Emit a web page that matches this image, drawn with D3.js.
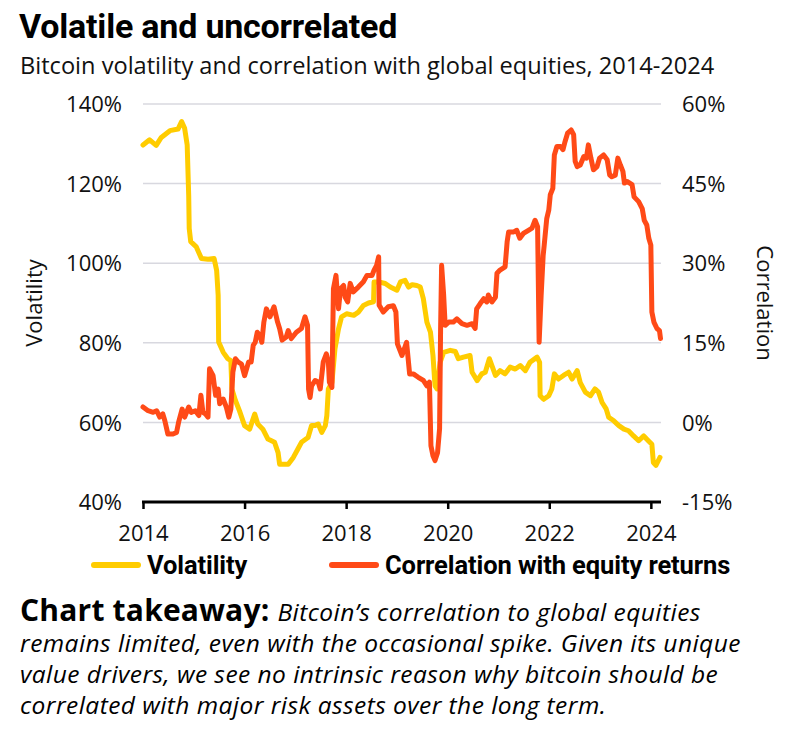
<!DOCTYPE html>
<html>
<head>
<meta charset="utf-8">
<script src="https://cdn.jsdelivr.net/npm/d3@7/dist/d3.min.js"></script>
<style>
  body { margin: 0; background: #fff; }
  svg { display: block; }
  .tick-label { font-family: "Open Sans", sans-serif; font-size: 22px; fill: #111; }
</style>
</head>
<body>
<div id="chart"></div>
<script>
// Bitcoin 30-day volatility (%)
const volYears = [2014.00, 2014.13, 2014.26, 2014.36, 2014.53, 2014.69, 2014.76, 2014.82, 2014.87, 2014.90,
  2014.91, 2014.94, 2015.05, 2015.15, 2015.28, 2015.40, 2015.45, 2015.48, 2015.49, 2015.58,
  2015.67, 2015.73, 2015.75, 2015.82, 2015.90, 2016.00, 2016.10, 2016.20, 2016.26, 2016.36,
  2016.46, 2016.59, 2016.66, 2016.69, 2016.86, 2016.96, 2017.05, 2017.12, 2017.25, 2017.32,
  2017.39, 2017.45, 2017.52, 2017.59, 2017.62, 2017.65, 2017.72, 2017.78, 2017.85, 2017.91,
  2018.01, 2018.15, 2018.24, 2018.34, 2018.44, 2018.54, 2018.55, 2018.64, 2018.77, 2018.87,
  2019.00, 2019.07, 2019.16, 2019.23, 2019.30, 2019.39, 2019.46, 2019.52, 2019.59, 2019.66,
  2019.71, 2019.75, 2019.79, 2019.85, 2019.92, 2020.05, 2020.15, 2020.21, 2020.31, 2020.44,
  2020.48, 2020.58, 2020.67, 2020.74, 2020.82, 2020.94, 2021.03, 2021.13, 2021.23, 2021.33,
  2021.43, 2021.53, 2021.62, 2021.76, 2021.81, 2021.82, 2021.89, 2021.99, 2022.05, 2022.10,
  2022.18, 2022.28, 2022.38, 2022.45, 2022.55, 2022.61, 2022.71, 2022.81, 2022.90, 2022.97,
  2023.04, 2023.12, 2023.17, 2023.27, 2023.37, 2023.47, 2023.56, 2023.66, 2023.76, 2023.86,
  2023.95, 2024.02, 2024.05, 2024.10, 2024.18];
const volValues = [129.7, 131.0, 129.6, 131.6, 133.3, 133.7, 135.6, 133.9, 129.7, 117.0,
  108.7, 105.4, 104.1, 101.2, 101.0, 101.2, 98.2, 92.0, 80.2, 77.6,
  76.0, 75.5, 68.4, 65.5, 62.9, 59.2, 58.3, 62.1, 59.6, 58.3,
  55.8, 55.0, 52.4, 49.5, 49.5, 51.2, 53.3, 55.0, 56.2, 59.2,
  59.2, 59.6, 57.5, 59.2, 61.7, 68.4, 70.0, 78.5, 83.5, 86.5,
  87.3, 86.9, 87.7, 89.4, 90.0, 90.3, 95.3, 95.3, 94.9, 94.0,
  93.2, 95.3, 95.7, 94.0, 94.6, 94.4, 94.0, 91.1, 85.2, 82.7,
  76.8, 69.2, 68.4, 75.1, 77.6, 78.1, 77.8, 76.0, 76.4, 76.8,
  72.6, 70.5, 72.2, 72.6, 76.0, 71.8, 73.0, 72.2, 73.9, 73.4,
  74.3, 73.0, 75.1, 76.4, 75.1, 66.7, 65.8, 66.7, 68.4, 72.2,
  70.9, 71.8, 72.6, 70.9, 73.0, 70.0, 67.6, 66.7, 68.4, 67.6,
  65.0, 63.4, 61.3, 60.4, 59.2, 58.3, 57.9, 56.6, 55.4, 56.6,
  55.4, 54.5, 49.9, 49.2, 51.2];

// Correlation of bitcoin with global equity returns (%)
const corrYears = [2014.00, 2014.10, 2014.20, 2014.27, 2014.33, 2014.39, 2014.43, 2014.49, 2014.59, 2014.66,
  2014.70, 2014.77, 2014.82, 2014.90, 2014.95, 2015.03, 2015.10, 2015.14, 2015.18, 2015.23,
  2015.28, 2015.31, 2015.38, 2015.43, 2015.48, 2015.51, 2015.58, 2015.64, 2015.69, 2015.73,
  2015.77, 2015.82, 2015.87, 2015.94, 2016.00, 2016.08, 2016.13, 2016.17, 2016.21, 2016.25,
  2016.30, 2016.34, 2016.38, 2016.43, 2016.50, 2016.58, 2016.65, 2016.69, 2016.74, 2016.82,
  2016.86, 2016.92, 2017.02, 2017.12, 2017.19, 2017.24, 2017.26, 2017.29, 2017.32, 2017.39,
  2017.45, 2017.49, 2017.55, 2017.61, 2017.65, 2017.67, 2017.72, 2017.75, 2017.80, 2017.85,
  2017.89, 2017.95, 2017.98, 2018.03, 2018.08, 2018.14, 2018.24, 2018.34, 2018.41, 2018.51,
  2018.55, 2018.60, 2018.64, 2018.65, 2018.73, 2018.83, 2018.93, 2018.98, 2019.01, 2019.10,
  2019.19, 2019.25, 2019.33, 2019.42, 2019.52, 2019.59, 2019.64, 2019.67, 2019.71, 2019.75,
  2019.80, 2019.84, 2019.86, 2019.88, 2019.92, 2019.95, 2020.02, 2020.11, 2020.18, 2020.28,
  2020.38, 2020.48, 2020.54, 2020.57, 2020.64, 2020.71, 2020.77, 2020.80, 2020.87, 2020.94,
  2020.97, 2021.03, 2021.13, 2021.17, 2021.20, 2021.30, 2021.36, 2021.42, 2021.49, 2021.59,
  2021.66, 2021.72, 2021.77, 2021.80, 2021.84, 2021.88, 2021.90, 2021.95, 2021.99, 2022.02,
  2022.07, 2022.10, 2022.15, 2022.22, 2022.27, 2022.31, 2022.36, 2022.43, 2022.48, 2022.51,
  2022.55, 2022.61, 2022.68, 2022.73, 2022.77, 2022.82, 2022.87, 2022.94, 2022.99, 2023.07,
  2023.14, 2023.19, 2023.23, 2023.30, 2023.35, 2023.40, 2023.45, 2023.48, 2023.53, 2023.63,
  2023.67, 2023.76, 2023.83, 2023.87, 2023.92, 2023.96, 2024.00, 2024.02, 2024.06, 2024.12,
  2024.17, 2024.19];
const corrValues = [2.9, 2.2, 1.9, 2.2, 1.0, 1.6, 0.3, -2.2, -2.2, -1.9,
  0.0, 2.5, 1.0, 2.9, 1.9, 2.2, 1.3, 5.1, 1.9, 1.6,
  1.0, 10.1, 8.8, 5.1, 6.3, 3.5, 4.4, 2.9, 1.0, 2.5,
  9.5, 12.0, 11.4, 11.0, 8.8, 11.4, 11.4, 14.5, 15.1, 17.0,
  16.4, 15.1, 18.9, 21.4, 19.9, 21.8, 18.9, 17.7, 15.5, 16.1,
  17.3, 15.8, 17.0, 17.7, 19.9, 18.3, 6.3, 4.7, 6.9, 7.9,
  7.6, 6.3, 11.4, 12.9, 11.4, 7.6, 6.6, 25.2, 27.7, 21.4,
  25.2, 25.8, 23.6, 22.7, 26.2, 24.6, 25.5, 26.5, 27.7, 27.7,
  28.7, 29.6, 31.2, 22.1, 20.8, 21.8, 22.0, 20.8, 14.8, 12.6,
  15.1, 9.1, 9.1, 8.5, 7.9, 6.9, 7.6, -4.4, -6.3, -7.2,
  -5.7, -1.2, 17.7, 29.6, 24.0, 18.3, 18.9, 18.9, 19.5, 18.6,
  18.3, 18.6, 17.7, 21.4, 22.4, 23.3, 22.7, 24.0, 22.7, 23.6,
  28.1, 28.7, 29.3, 34.0, 35.9, 35.9, 36.2, 34.7, 35.6, 36.2,
  36.6, 38.1, 36.9, 15.1, 24.0, 31.5, 33.4, 38.4, 40.0, 42.9,
  44.1, 50.4, 52.0, 52.0, 51.4, 52.9, 54.5, 55.1, 54.2, 49.2,
  48.2, 48.5, 50.1, 49.8, 52.3, 49.8, 47.6, 48.2, 49.8, 50.4,
  49.5, 46.6, 46.3, 46.6, 49.8, 48.5, 47.3, 45.1, 45.4, 44.8,
  42.5, 41.6, 40.3, 38.1, 37.2, 34.7, 33.4, 20.8, 18.9, 17.7,
  17.3, 15.8];

const xTicks = [2014, 2016, 2018, 2020, 2022, 2024];
const volTicks = [40, 60, 80, 100, 120, 140];
const corrTicks = [-15, 0, 15, 30, 45, 60];

const seriesNames = ['Volatility', 'Correlation with equity returns'];
const seriesColors = ['#FFCC00', '#FF4A17'];

const W = 793, H = 730;
const plot = { left: 143, right: 661, top: 104, bottom: 502 };

const svg = d3.select('#chart').append('svg')
    .attr('width', W)
    .attr('height', H);

// Title and subtitle
svg.append('text')
    .attr('x', 19).attr('y', 38)
    .style('font-family', 'Roboto, sans-serif')
    .style('font-weight', 700)
    .style('font-size', '34px')
    .style('letter-spacing', '-0.2px')
    .attr('fill', '#000')
    .text('Volatile and uncorrelated');

svg.append('text')
    .attr('x', 20).attr('y', 74)
    .style('font-family', '"Open Sans", sans-serif')
    .style('font-size', '23.6px')
    .attr('fill', '#111')
    .text('Bitcoin volatility and correlation with global equities, 2014-2024');

// Scales
const x = d3.scaleLinear().domain([2014, 2024.2]).range([plot.left, plot.right]);
const yVol = d3.scaleLinear().domain([40, 140]).range([plot.bottom, plot.top]);
const yCorr = d3.scaleLinear().domain([-15, 60]).range([plot.bottom, plot.top]);

// Gridlines
svg.append('g')
    .selectAll('line')
    .data(volTicks.slice(1))
    .join('line')
    .attr('x1', plot.left).attr('x2', plot.right)
    .attr('y1', d => yVol(d)).attr('y2', d => yVol(d))
    .attr('stroke', '#d8d8df')
    .attr('stroke-width', 1.5);

// Left axis
const leftAxis = svg.append('g')
    .attr('transform', `translate(${plot.left},0)`)
    .call(d3.axisLeft(yVol).tickValues(volTicks).tickFormat(d => d + '%').tickSize(0).tickPadding(21));
leftAxis.select('.domain').remove();
leftAxis.selectAll('text').attr('class', 'tick-label').attr('dy', '0.35em');

// Right axis
const rightAxis = svg.append('g')
    .attr('transform', `translate(${plot.right},0)`)
    .call(d3.axisRight(yCorr).tickValues(corrTicks).tickFormat(d => d + '%').tickSize(0).tickPadding(21));
rightAxis.select('.domain').remove();
rightAxis.selectAll('text').attr('class', 'tick-label').attr('dy', '0.35em');

// Bottom axis
const bottomAxis = svg.append('g')
    .attr('transform', `translate(0,${plot.bottom})`)
    .call(d3.axisBottom(x).tickValues(xTicks).tickFormat(d3.format('d')).tickSizeInner(7).tickSizeOuter(0).tickPadding(12));
bottomAxis.select('.domain').attr('stroke', '#000').attr('stroke-width', 3)
    .attr('d', `M${plot.left - 1},0H${plot.right}`);
bottomAxis.selectAll('.tick line').attr('stroke', '#000').attr('stroke-width', 2.5);
bottomAxis.selectAll('text').attr('class', 'tick-label').attr('dy', '0.9em');

// Axis titles
svg.append('text')
    .attr('transform', `translate(42,${(plot.top + plot.bottom) / 2}) rotate(-90)`)
    .attr('text-anchor', 'middle')
    .attr('class', 'tick-label')
    .text('Volatility');

svg.append('text')
    .attr('transform', `translate(757,${(plot.top + plot.bottom) / 2}) rotate(90)`)
    .attr('text-anchor', 'middle')
    .attr('class', 'tick-label')
    .text('Correlation');

// Lines
const volData = volYears.map((d, i) => ({ year: d, value: volValues[i] }));
const corrData = corrYears.map((d, i) => ({ year: d, value: corrValues[i] }));

const volLine = d3.line().x(d => x(d.year)).y(d => yVol(d.value));
const corrLine = d3.line().x(d => x(d.year)).y(d => yCorr(d.value));

svg.append('path')
    .datum(volData)
    .attr('d', volLine)
    .attr('fill', 'none')
    .attr('stroke', seriesColors[0])
    .attr('stroke-width', 5)
    .attr('stroke-linejoin', 'round')
    .attr('stroke-linecap', 'round');

svg.append('path')
    .datum(corrData)
    .attr('d', corrLine)
    .attr('fill', 'none')
    .attr('stroke', seriesColors[1])
    .attr('stroke-width', 5)
    .attr('stroke-linejoin', 'round')
    .attr('stroke-linecap', 'round');

// Legend
const legendX = [92, 330];
const legend = svg.append('g').selectAll('g')
    .data(seriesNames)
    .join('g')
    .attr('transform', (d, i) => `translate(${legendX[i]},565)`);
legend.append('line')
    .attr('x1', 2).attr('x2', 46)
    .attr('stroke', (d, i) => seriesColors[i])
    .attr('stroke-width', 6)
    .attr('stroke-linecap', 'round');
legend.append('text')
    .attr('x', 55).attr('dy', '0.36em')
    .style('font-family', 'Roboto, sans-serif')
    .style('font-weight', 700)
    .style('font-size', '25.5px')
    .style('letter-spacing', '-0.1px')
    .attr('fill', '#000')
    .text(d => d);

// Takeaway
const takeaway = [
  'remains limited, even with the occasional spike. Given its unique',
  'value drivers, we see no intrinsic reason why bitcoin should be',
  'correlated with major risk assets over the long term.'
];
const first = svg.append('text')
    .attr('x', 20).attr('y', 621)
    .style('font-family', '"Open Sans", sans-serif')
    .attr('fill', '#000');
first.append('tspan')
    .style('font-weight', 700)
    .style('font-size', '30px')
    .style('letter-spacing', '0.2px')
    .text('Chart takeaway: ');
first.append('tspan')
    .style('font-style', 'italic')
    .style('font-size', '24.5px')
    .style('letter-spacing', '0.45px')
    .text('Bitcoin\u2019s correlation to global equities');

svg.append('g').selectAll('text')
    .data(takeaway)
    .join('text')
    .attr('x', 20)
    .attr('y', (d, i) => 652 + i * 31)
    .style('font-family', '"Open Sans", sans-serif')
    .style('font-style', 'italic')
    .style('font-size', '24.5px')
    .style('letter-spacing', '0.45px')
    .attr('fill', '#000')
    .text(d => d);
</script>
</body>
</html>
